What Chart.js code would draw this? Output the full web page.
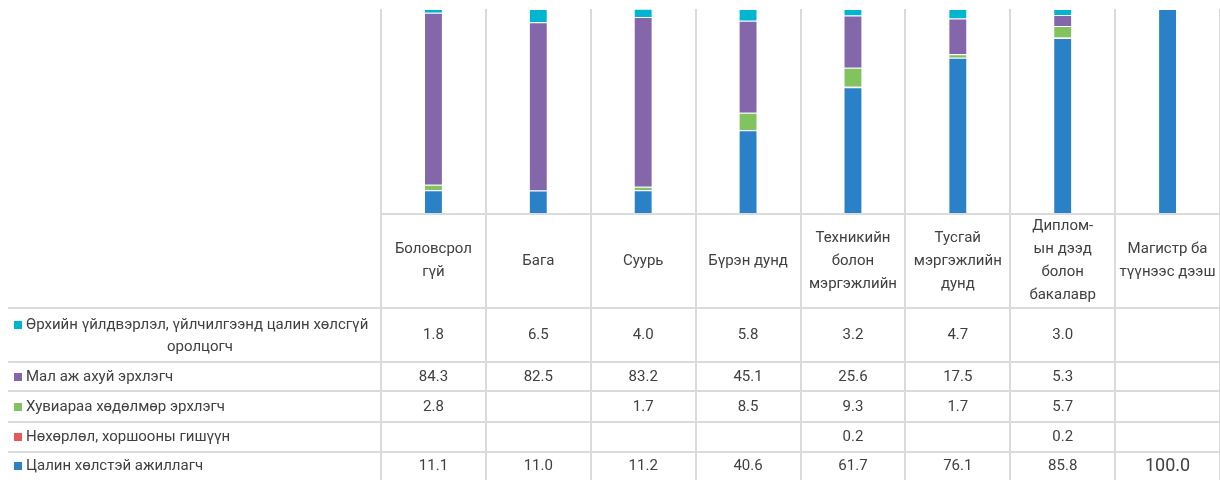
<!DOCTYPE html>
<html>
<head>
<meta charset="utf-8">
<script src="https://cdn.jsdelivr.net/npm/chart.js@4/dist/chart.umd.min.js"></script>
<style>
  html, body { margin: 0; padding: 0; background: #fff; }
</style>
</head>
<body>
<canvas id="myChart" width="1220" height="480"></canvas>
<script>
// categories (education level), label lines as shown in the table header
var categories = [
    ['Боловсрол', 'гүй'],
    ['Бага'],
    ['Суурь'],
    ['Бүрэн дунд'],
    ['Техникийн', 'болон', 'мэргэжлийн'],
    ['Тусгай', 'мэргэжлийн', 'дунд'],
    ['Диплом-', 'ын дээд', 'болон', 'бакалавр'],
    ['Магистр ба', 'түүнээс дээш']
];

// series, bottom of the stack first
var paidWorker   = [11.1, 11.0, 11.2, 40.6, 61.7, 76.1, 85.8, 100.0];
var coopMember   = [null, null, null, null, 0.2, null, 0.2, null];
var selfEmployed = [2.8, null, 1.7, 8.5, 9.3, 1.7, 5.7, null];
var herder       = [84.3, 82.5, 83.2, 45.1, 25.6, 17.5, 5.3, null];
var familyUnpaid = [1.8, 6.5, 4.0, 5.8, 3.2, 4.7, 3.0, null];

var seriesNames = [
    'Цалин хөлстэй ажиллагч',
    'Нөхөрлөл, хоршооны гишүүн',
    'Хувиараа хөдөлмөр эрхлэгч',
    'Мал аж ахуй эрхлэгч',
    'Өрхийн үйлдвэрлэл, үйлчилгээнд цалин хөлсгүй оролцогч'
];
var seriesColors = ['#2a81c8', '#e35a5a', '#80c35f', '#8466aa', '#00b5cf'];
var seriesData = [paidWorker, coopMember, selfEmployed, herder, familyUnpaid];

var FONT = 'Roboto, "Noto Sans", sans-serif';
var TEXT = '#404040';
var LINE = '#dadada';

// table drawn under the plot, columns follow the x scale
var tablePlugin = {
    id: 'dataTable',
    beforeDatasetsDraw: function (chart) {
        var ctx = chart.ctx;
        var area = chart.chartArea;
        var w = (area.right - area.left) / categories.length;
        ctx.save();
        ctx.strokeStyle = LINE;
        ctx.lineWidth = 2;
        // column lines
        for (var i = 0; i <= categories.length; i++) {
            var x = Math.round(area.left + i * w);
            ctx.beginPath();
            ctx.moveTo(x, area.top);
            ctx.lineTo(x, 480);
            ctx.stroke();
        }
        // axis line
        ctx.beginPath();
        ctx.moveTo(area.left, area.bottom + 1);
        ctx.lineTo(area.right, area.bottom + 1);
        ctx.stroke();
        // row lines
        var rowLines = [308, 362, 391, 422, 452];
        rowLines.forEach(function (y) {
            ctx.beginPath();
            ctx.moveTo(8, y);
            ctx.lineTo(area.right, y);
            ctx.stroke();
        });
        ctx.restore();
    },
    afterDraw: function (chart) {
        var ctx = chart.ctx;
        var xs = chart.scales.x;
        ctx.save();
        ctx.fillStyle = TEXT;
        ctx.textBaseline = 'middle';
        ctx.font = '15px ' + FONT;

        // header: category names
        ctx.textAlign = 'center';
        var lh = 23;
        categories.forEach(function (lines, i) {
            var cx = xs.getPixelForValue(i);
            var y0 = 261 - (lines.length - 1) * lh / 2;
            lines.forEach(function (t, k) {
                ctx.fillText(t, cx, y0 + k * lh);
            });
        });

        // rows: top of the stack first
        var rows = [
            { s: 4, y: 335, lines: [[325, 'Өрхийн үйлдвэрлэл, үйлчилгээнд цалин хөлсгүй'], [347, 'оролцогч']] },
            { s: 3, y: 377 },
            { s: 2, y: 407 },
            { s: 1, y: 437 },
            { s: 0, y: 466 }
        ];
        rows.forEach(function (r) {
            var keyY = r.lines ? r.lines[0][0] : r.y;
            ctx.fillStyle = seriesColors[r.s];
            ctx.fillRect(14, keyY - 4, 8, 8);
            ctx.fillStyle = TEXT;
            if (r.lines) {
                ctx.textAlign = 'left';
                ctx.fillText(r.lines[0][1], 26, r.lines[0][0]);
                ctx.textAlign = 'center';
                ctx.fillText(r.lines[1][1], 200, r.lines[1][0]);
            } else {
                ctx.textAlign = 'left';
                ctx.fillText(seriesNames[r.s], 26, r.y);
            }
            ctx.textAlign = 'center';
            seriesData[r.s].forEach(function (v, i) {
                if (v === null) return;
                ctx.font = (v === 100 ? '18px ' : '15px ') + FONT;
                ctx.fillText(v.toFixed(1), xs.getPixelForValue(i), r.y);
            });
            ctx.font = '15px ' + FONT;
        });
        ctx.restore();
    }
};

var ctx = document.getElementById('myChart').getContext('2d');
var myChart = new Chart(ctx, {
    type: 'bar',
    data: {
        labels: categories.map(function (c) { return c.join(' '); }),
        datasets: seriesData.map(function (d, i) {
            return {
                label: seriesNames[i],
                data: d,
                backgroundColor: seriesColors[i],
                borderColor: 'rgba(255,255,255,0.55)',
                borderWidth: 1,
                barPercentage: 0.18,
                categoryPercentage: 1
            };
        })
    },
    options: {
        responsive: false,
        animation: false,
        layout: { padding: { left: 381, right: 0, top: 9, bottom: 267 } },
        plugins: { legend: { display: false }, tooltip: { enabled: false } },
        scales: {
            x: { stacked: true, display: false },
            y: { stacked: true, display: false, min: 0, max: 100 }
        }
    },
    plugins: [tablePlugin]
});
</script>
</body>
</html>
